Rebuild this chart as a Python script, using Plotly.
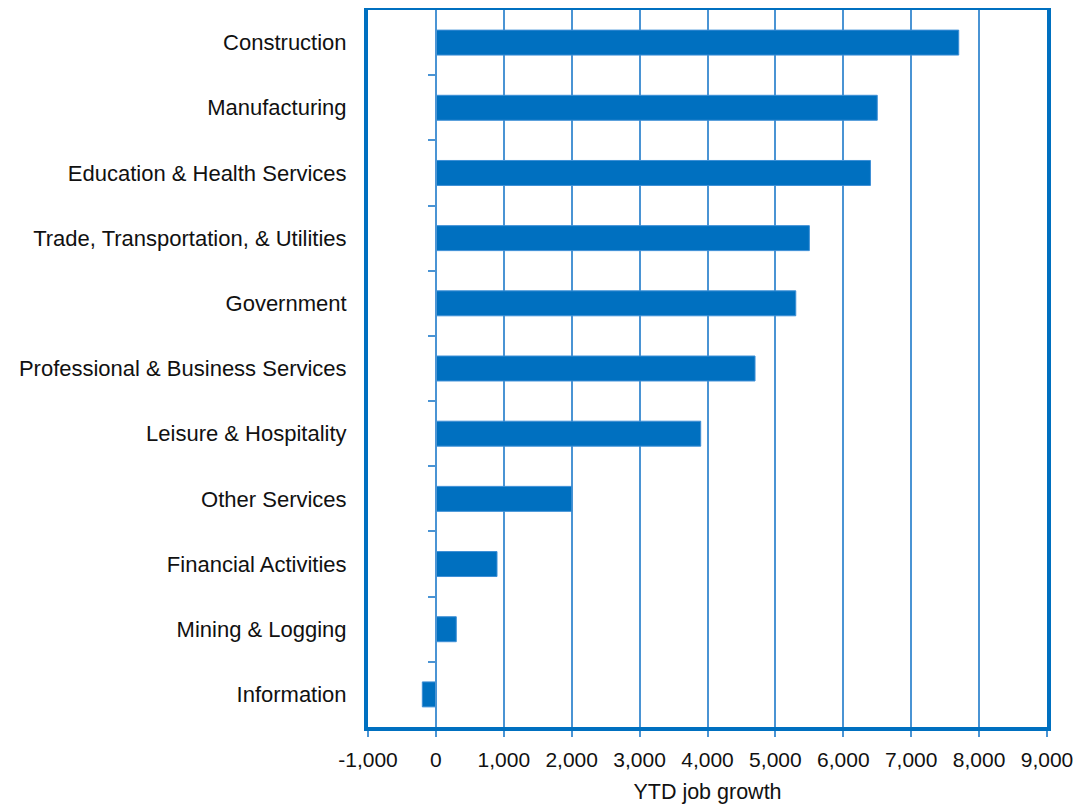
import plotly.graph_objects as go

categories = ["Construction", "Manufacturing", "Education & Health Services",
              "Trade, Transportation, & Utilities", "Government",
              "Professional & Business Services", "Leisure & Hospitality",
              "Other Services", "Financial Activities", "Mining & Logging", "Information"]
values = [7700, 6500, 6400, 5500, 5300, 4700, 3900, 2000, 900, 300, -200]
x_ticks = list(range(-1000, 9001, 1000))
x_tick_labels = [f"{v:,}" for v in x_ticks]

BLUE = "#0070C0"
GRID = "#4a94d4"
FONT = "Liberation Sans, Arial, sans-serif"

cats_plot = categories[::-1]
n = len(categories)

fig = go.Figure()
fig.add_trace(go.Bar(
    y=cats_plot, x=values[::-1], orientation="h",
    marker=dict(color=BLUE, line=dict(color="#3d8fd6", width=1)),
    showlegend=False, hoverinfo="x+y",
))
# invisible trace to anchor the secondary (zero-line) axis
fig.add_trace(go.Scatter(x=[0], y=[0], yaxis="y2", mode="markers",
                         marker=dict(opacity=0), showlegend=False, hoverinfo="skip"))

fig.update_layout(
    width=1083, height=804,
    margin=dict(l=360, r=44, t=2, b=85),
    paper_bgcolor="white", plot_bgcolor="white",
    bargap=0.617,
    font=dict(family=FONT, size=22, color="#111111"),
    xaxis=dict(
        range=[-1000, 9000], tickvals=x_ticks, ticktext=x_tick_labels,
        showgrid=True, gridcolor=GRID, gridwidth=2, zeroline=False,
        showline=True, linecolor=BLUE, linewidth=4, mirror=True,
        ticks="outside", ticklen=6, tickcolor=GRID, tickwidth=2,
        tickfont=dict(size=21, family=FONT), automargin=False, ticklabelstandoff=5,
        title=dict(text="YTD job growth", font=dict(size=21.5, family=FONT), standoff=15),
    ),
    yaxis=dict(
        type="category", categoryorder="array", categoryarray=cats_plot,
        range=[-0.5, n - 0.5], showgrid=False, zeroline=False,
        showline=True, linecolor=BLUE, linewidth=4, mirror=True,
        ticks="", tickfont=dict(size=22, family=FONT), ticklabelstandoff=13,
        automargin=False,
    ),
    yaxis2=dict(
        overlaying="y", anchor="free", position=0.1, side="left",
        range=[-0.5, n - 0.5], tickvals=[i + 0.5 for i in range(n - 1)],
        showticklabels=False, ticks="outside", ticklen=7, tickcolor=GRID, tickwidth=2,
        showline=True, linecolor=GRID, linewidth=2, showgrid=False, zeroline=False,
        automargin=False,
    ),
)

fig.write_html("out.html")
